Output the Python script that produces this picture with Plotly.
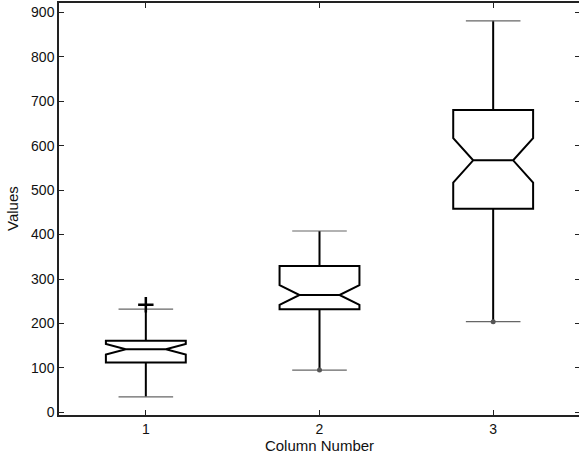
import plotly.graph_objects as go

columns = [1, 2, 3]
q1 = [112, 232, 458]
medians = [142, 264, 567]
q3 = [161, 329, 680]
lower_whisker = [35, 95, 204]
upper_whisker = [232, 408, 881]
notch_span = [12, 22, 50]

outlier_x = [1]
outlier_y = [242]
dot_x = [2, 3]
dot_y = [95, 204]

fig = go.Figure()

fig.add_trace(go.Box(
    x=columns, q1=q1, median=medians, q3=q3,
    lowerfence=lower_whisker, upperfence=upper_whisker,
    notched=True, notchspan=notch_span, notchwidth=0.25,
    width=0.46, whiskerwidth=0,
    line=dict(color='black', width=2),
    fillcolor='rgba(255,255,255,0)',
    boxpoints=False, showlegend=False, hoverinfo='skip'))

# whisker caps (thin gray lines)
fig.add_trace(go.Scatter(
    x=columns * 2, y=lower_whisker + upper_whisker, mode='markers',
    marker=dict(symbol='line-ew', size=39, line=dict(color='#666666', width=1.2)),
    showlegend=False, hoverinfo='skip'))

fig.add_trace(go.Scatter(
    x=dot_x, y=dot_y, mode='markers',
    marker=dict(symbol='circle', size=5, color='#555555'),
    showlegend=False, hoverinfo='skip'))

fig.add_trace(go.Scatter(
    x=outlier_x, y=outlier_y, mode='markers',
    marker=dict(symbol='cross-thin', size=11, line=dict(color='black', width=2.5)),
    showlegend=False, hoverinfo='skip'))

fig.update_layout(
    width=582, height=459,
    margin=dict(l=59, r=0, t=3, b=44),
    paper_bgcolor='white', plot_bgcolor='white',
    font=dict(family='Liberation Sans, Arial', size=14, color='#111111'))

# y label placed by hand so it sits near the left edge like the original
fig.add_annotation(text='Values', textangle=-90, font=dict(size=15),
                   xref='paper', yref='paper', x=0, y=0.5,
                   xanchor='center', yanchor='middle', xshift=-47, showarrow=False)

fig.update_xaxes(
    range=[0.5, 3.5], tickvals=columns, ticktext=['1', '2', '3'],
    showgrid=False, zeroline=False, showline=True, linecolor='#222222', linewidth=1.5,
    mirror='ticks', ticks='inside', ticklen=5, tickcolor='#222222',
    title=dict(text='Column Number', font=dict(size=15), standoff=5))

fig.update_yaxes(
    range=[-6, 921], tickvals=[0, 100, 200, 300, 400, 500, 600, 700, 800, 900],
    showgrid=False, zeroline=False, showline=True, linecolor='#222222', linewidth=1.5,
    mirror='ticks', ticks='inside', ticklen=5, tickcolor='#222222')

fig.write_html("out.html", config={'displayModeBar': False},
               post_script="document.body.style.margin='0';document.body.style.overflow='hidden';")
